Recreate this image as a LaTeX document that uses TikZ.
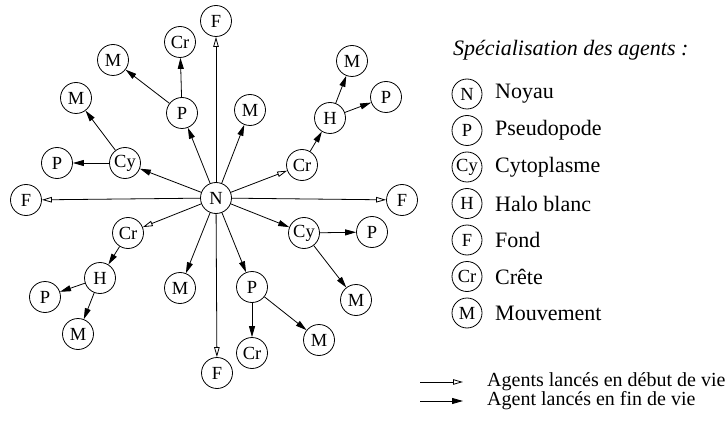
\documentclass[tikz,border=0pt]{standalone}
\usepackage{fontspec}
\setmainfont{Liberation Serif}
\usetikzlibrary{arrows.meta}
\begin{document}
\begin{tikzpicture}[x=1pt,y=-1pt,
  ag/.style={draw,circle,minimum size=31pt,inner sep=0pt,line width=0.8pt,font=\rmfamily\fontsize{18.5}{20}\selectfont},
  lg/.style={draw,circle,minimum size=30pt,inner sep=0pt,line width=0.8pt,font=\rmfamily\fontsize{18.5}{20}\selectfont},
  early/.style={-{Triangle[open,length=10pt,width=5.5pt]},line width=0.8pt},
  late/.style={-{Triangle[length=11pt,width=6pt]},line width=0.8pt},
  ltxt/.style={anchor=west,inner sep=0pt,font=\rmfamily\fontsize{22}{26}\selectfont},
  btxt/.style={anchor=west,inner sep=0pt,font=\rmfamily\fontsize{20}{24}\selectfont}]
\useasboundingbox (0,0) rectangle (725,422);
% agents
\node[ag] (N) at (216,198) {N};
\node[ag] (Ft) at (216,21) {F};
\node[ag] (Fl) at (26,200) {F};
\node[ag] (Fr) at (402,200) {F};
\node[ag] (Fb) at (217,373) {F};
\node[ag] (P1) at (182,113) {P};
\node[ag] (Cr1) at (180,42) {Cr};
\node[ag] (M1) at (113,60) {M};
\node[ag] (M2) at (250,110) {M};
\node[ag] (Cy1) at (125,163) {Cy};
\node[ag] (P2) at (57,163) {P};
\node[ag] (M3) at (76,98) {M};
\node[ag] (Cr2) at (302,165) {Cr};
\node[ag] (H1) at (330,118) {H};
\node[ag] (M4) at (352,61) {M};
\node[ag] (P3) at (386,97) {P};
\node[ag] (Cr3) at (128,233) {Cr};
\node[ag] (H2) at (100,278) {H};
\node[ag] (P4) at (45,297) {P};
\node[ag] (M5) at (78,334) {M};
\node[ag] (M6) at (180,288) {M};
\node[ag] (Cy2) at (304,233) {Cy};
\node[ag] (P5) at (372,232) {P};
\node[ag] (M7) at (356,300) {M};
\node[ag] (P6) at (252,287) {P};
\node[ag] (Cr4) at (252,353) {Cr};
\node[ag] (M8) at (319,340) {M};
% early
\draw[early] (N) -- (Ft);
\draw[early] (N) -- (Fl);
\draw[early] (N) -- (Fr);
\draw[early] (N) -- (Fb);
\draw[early] (N) -- (Cr2);
\draw[early] (N) -- (Cr3);
% late
\draw[late] (N) -- (P1);
\draw[late] (N) -- (M2);
\draw[late] (N) -- (Cy1);
\draw[late] (N) -- (M6);
\draw[late] (N) -- (P6);
\draw[late] (N) -- (Cy2);
\draw[late] (P1) -- (Cr1);
\draw[late] (P1) -- (M1);
\draw[late] (Cy1) -- (P2);
\draw[late] (Cy1) -- (M3);
\draw[late] (Cr2) -- (H1);
\draw[late] (H1) -- (M4);
\draw[late] (H1) -- (P3);
\draw[late] (Cr3) -- (H2);
\draw[late] (H2) -- (P4);
\draw[late] (H2) -- (M5);
\draw[late] (Cy2) -- (P5);
\draw[late] (Cy2) -- (M7);
\draw[late] (P6) -- (Cr4);
\draw[late] (P6) -- (M8);
% legend
\node[ltxt,font=\rmfamily\fontsize{22}{26}\selectfont\itshape] (title) at (453,50) {Spécialisation des agents :};
\node[lg] (LN) at (467,94) {N};
\node[ltxt] (tN) at (495,94) {Noyau};
\node[lg] (LP) at (467,130.5) {P};
\node[ltxt] (tP) at (495,130.5) {Pseudopode};
\node[lg] (LCy) at (467,167) {Cy};
\node[ltxt] (tCy) at (495,167) {Cytoplasme};
\node[lg] (LH) at (467,203.5) {H};
\node[ltxt] (tH) at (495,203.5) {Halo blanc};
\node[lg] (LF) at (467,240) {F};
\node[ltxt] (tF) at (495,240) {Fond};
\node[lg] (LCr) at (467,276.5) {Cr};
\node[ltxt] (tCr) at (495,276.5) {Crête};
\node[lg] (LM) at (467,313) {M};
\node[ltxt] (tM) at (495,313) {Mouvement};
\coordinate (e1) at (420,382);
\coordinate (e2) at (463,382);
\coordinate (l1) at (420,401);
\coordinate (l2) at (463,401);
\draw[early] (e1) -- (e2);
\draw[late] (l1) -- (l2);
\node[btxt] (te) at (487,382) {Agents lancés en début de vie};
\node[btxt] (tl) at (487,401) {Agent lancés en fin de vie};
\end{tikzpicture}
\end{document}
